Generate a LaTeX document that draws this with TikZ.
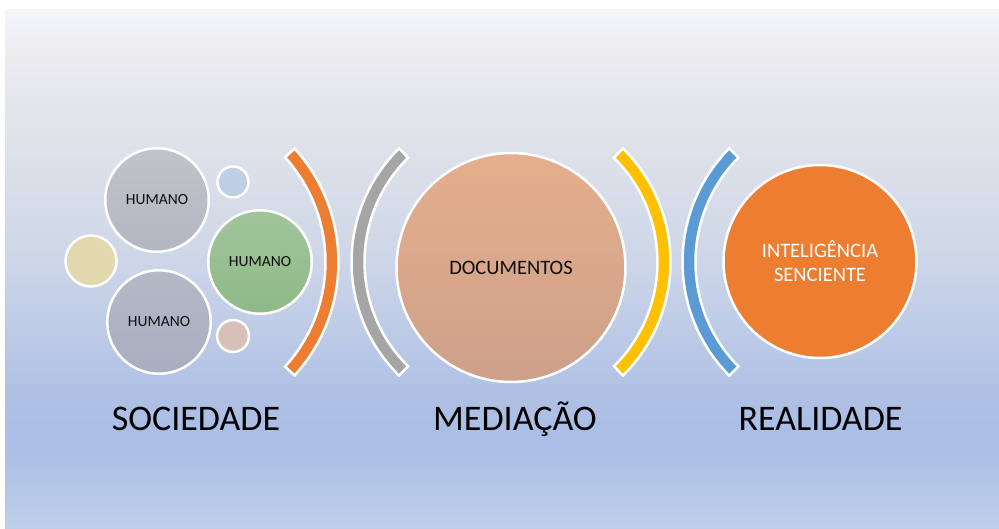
\documentclass[tikz,border=0pt]{standalone}
\usepackage{fontspec}
\setmainfont{Carlito}
\usetikzlibrary{calc}
\definecolor{bgtop}{HTML}{F4F5F9}
\definecolor{bgmistA}{HTML}{ECECEF}
\definecolor{bgmistB}{HTML}{E1E3E9}
\definecolor{bgmid}{HTML}{CDD6E8}
\definecolor{bgblueA}{HTML}{AEC0E4}
\definecolor{bgblueB}{HTML}{AABDE5}
\definecolor{bgbot}{HTML}{BECFEA}
\definecolor{humtopA}{HTML}{C2C3C8}
\definecolor{humtopB}{HTML}{B3B7C3}
\definecolor{humbotA}{HTML}{B4B9C7}
\definecolor{humbotB}{HTML}{A8AEC0}
\definecolor{humgrnA}{HTML}{A2C49B}
\definecolor{humgrnB}{HTML}{8EBA87}
\definecolor{dotblue}{HTML}{BDD0E6}
\definecolor{dottan}{HTML}{E3D7AE}
\definecolor{dotpink}{HTML}{D8C0B8}
\definecolor{docA}{HTML}{E4AF8C}
\definecolor{docB}{HTML}{CEA08A}
\definecolor{offorange}{HTML}{ED7D31}
\definecolor{offgray}{HTML}{A5A5A5}
\definecolor{offyellow}{HTML}{FFC000}
\definecolor{offblue}{HTML}{5B9BD5}
\definecolor{ink}{HTML}{0D0D0D}
\pgfdeclareverticalshading{backdrop}{100bp}{color(0bp)=(bgbot); color(25bp)=(bgbot);
  color(33.5bp)=(bgblueB); color(37.4bp)=(bgblueA); color(50.7bp)=(bgmid);
  color(63.4bp)=(bgmistB); color(70.7bp)=(bgmistA); color(75bp)=(bgtop); color(100bp)=(bgtop)}
% colour, centre, outer r, inner r, from, to
\newcommand{\bandarc}[6]{%
  \filldraw[band,fill=#1] ([shift={(#2)}]#5:#3) arc[start angle=#5,end angle=#6,radius=#3]
    -- ([shift={(#2)}]#6:#4) arc[start angle=#6,end angle=#5,radius=#4] -- cycle;}
\begin{document}
\begin{tikzpicture}[x=1pt,y=1pt]
		\tikzstyle{blob}=[circle,draw=white,line width=2.5pt,inner sep=0pt,text=ink,font=\fontsize{15.5}{18}\selectfont]
		\tikzstyle{bigblob}=[blob,font=\fontsize{20.5}{24}\selectfont]
		\tikzstyle{band}=[draw=white,line width=2.5pt]
		\tikzstyle{caption}=[anchor=base,text=black,font=\fontsize{36}{40}\selectfont]
		\useasboundingbox[fill=white] (0,0) rectangle (999,528);
		\shade[shading=backdrop] (5,0) rectangle (999,518);
		\coordinate (os) at (170,266);
		\coordinate (om) at (511,266);
		\coordinate (or) at (844,266);
		\bandarc{offorange}{os}{168.5}{155.5}{-42.3}{42.3}
		\bandarc{offgray}{om}{159.5}{146.5}{134.6}{225.4}
		\bandarc{offyellow}{om}{159.5}{146.5}{-45.4}{45.4}
		\bandarc{offblue}{or}{161.5}{148.5}{135.3}{224.7}
		\node[blob,minimum size=103.5pt,top color=humtopA,bottom color=humtopB](h1)at(157,328){HUMANO};
		\node[blob,minimum size=103.5pt,top color=humbotA,bottom color=humbotB](h2)at(159,206){HUMANO};
		\node[blob,minimum size=103.5pt,top color=humgrnA,bottom color=humgrnB](h3)at(260,266){HUMANO};
		\node[blob,minimum size=31pt,fill=dotblue](b1)at(233,346){};
		\node[blob,minimum size=51pt,fill=dottan](b2)at(91,267){};
		\node[blob,minimum size=32pt,fill=dotpink](b3)at(233,192){};
		\node[bigblob,minimum size=229pt,top color=docA,bottom color=docB](doc)at(511,260.5){DOCUMENTOS};
		\node[bigblob,minimum size=193pt,fill=offorange,text=white,align=center](int)at(820,266.5){INTELIGÊNCIA\\SENCIENTE};
		\node[caption](soc)at(196,98){SOCIEDADE};
		\node[caption](med)at(515,98){MEDIAÇÃO};
		\node[caption](real)at(820.5,98){REALIDADE};
\end{tikzpicture}
\end{document}
